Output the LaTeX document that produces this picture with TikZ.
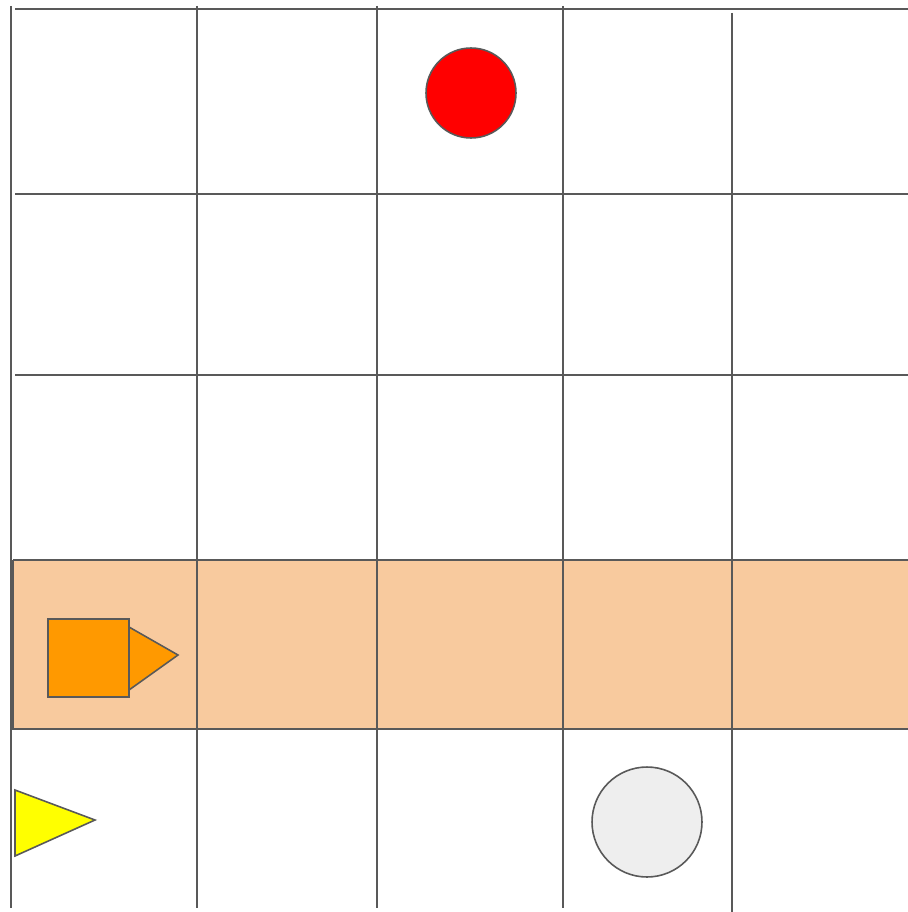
\documentclass[tikz,border=0pt]{standalone}
\usepackage{tikz}
\usetikzlibrary{positioning}
\definecolor{gridline}{HTML}{595959}
\definecolor{bandfill}{HTML}{F8CA9E}
\definecolor{agentfill}{HTML}{FF9900}
\definecolor{goalfill}{HTML}{FF0000}
\definecolor{flagfill}{HTML}{FFFF00}
\definecolor{stonefill}{HTML}{EEEEEE}
\begin{document}
\begin{tikzpicture}[
        x=0.02cm, y=-0.02cm,
        grid/.style={draw=gridline,line width=1.1pt},
        piece/.style={draw=gridline,line width=0.9pt},
        disc/.style={circle,draw=gridline,line width=0.9pt,inner sep=0pt}
    ]
        \useasboundingbox (0,0) rectangle (908,912);
        % highlighted row
        \fill[bandfill] (13,560) rectangle (908,729);

        % horizontal lines
        \draw[grid] (15,9) -- (908,9);
        \draw[grid] (15,194) -- (908,194);
        \draw[grid] (15,375) -- (908,375);
        \draw[grid] (13,560) -- (908,560);
        \draw[grid] (10,729) -- (908,729);

        % vertical lines
        \draw[grid] (11,6) -- (11,908);
        \draw[grid] (13,560) -- (13,729);
        \draw[grid] (197,6) -- (197,908);
        \draw[grid] (377,6) -- (377,908);
        \draw[grid] (563,6) -- (563,908);
        \draw[grid] (732,13) -- (732,912);

        % pieces
        \node[disc, fill=goalfill, minimum size=1.8cm] (goal) at (471,93) {};
        \node[disc, fill=stonefill, minimum size=2.2cm] (stone) at (647,822) {};

        \draw[piece, fill=agentfill] (48,619) rectangle (129,697);
        \draw[piece, fill=agentfill] (129,627) -- (178,655) -- (129,690) -- cycle;

        \draw[piece, fill=flagfill] (15,790) -- (95,820) -- (15,856) -- cycle;
    \end{tikzpicture}
\end{document}
